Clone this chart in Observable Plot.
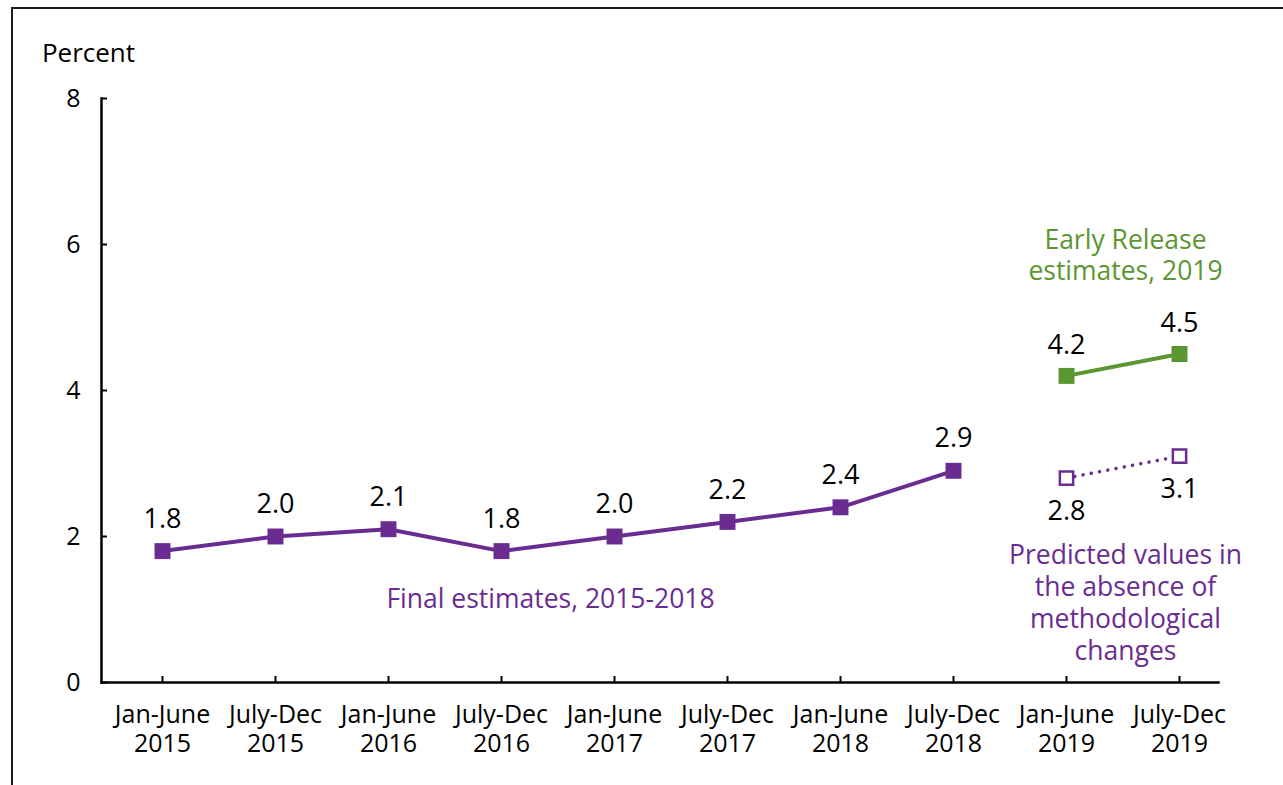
<!DOCTYPE html>
<html>
<head>
<meta charset="utf-8">
<script src="https://cdn.jsdelivr.net/npm/d3@7"></script>
<script src="https://cdn.jsdelivr.net/npm/@observablehq/plot@0.6"></script>
<style>
  body { margin: 0; background: #fff; }
  #wrap { position: relative; width: 1283px; height: 785px; overflow: hidden; background: #fff; }
  #border { position: absolute; left: 11px; top: 7px; width: 2000px; height: 2000px;
            border-left: 2px solid #1a1a1a; border-top: 2px solid #1a1a1a; }
  #chart { position: absolute; left: 0; top: 0; }
</style>
</head>
<body>
<div id="wrap"><div id="border"></div><div id="chart"></div></div>
<script>
// ---- data ----
const periods = ["Jan-June 2015", "July-Dec 2015", "Jan-June 2016", "July-Dec 2016",
                 "Jan-June 2017", "July-Dec 2017", "Jan-June 2018", "July-Dec 2018",
                 "Jan-June 2019", "July-Dec 2019"];
const tickLabels = ["Jan-June\n2015", "July-Dec\n2015", "Jan-June\n2016", "July-Dec\n2016",
                    "Jan-June\n2017", "July-Dec\n2017", "Jan-June\n2018", "July-Dec\n2018",
                    "Jan-June\n2019", "July-Dec\n2019"];
const finalPeriods = periods.slice(0, 8);
const finalValues = [1.8, 2.0, 2.1, 1.8, 2.0, 2.2, 2.4, 2.9];
const earlyPeriods = ["Jan-June 2019", "July-Dec 2019"];
const earlyValues = [4.2, 4.5];
const predictedValues = [2.8, 3.1];
const yTicks = [0, 2, 4, 6, 8];

const purple = "#6a2c91";
const green = "#5b9632";

const finalData = finalValues.map((v, i) => ({period: finalPeriods[i], value: v}));
const earlyData = earlyValues.map((v, i) => ({period: earlyPeriods[i], value: v}));
const predData = predictedValues.map((v, i) => ({period: earlyPeriods[i], value: v}));

const fmt = d => d.value.toFixed(1);

const chart = Plot.plot({
  width: 1283,
  height: 785,
  marginLeft: 101,
  marginRight: 65,
  marginTop: 98,
  marginBottom: 103,
  style: {fontFamily: "'Open Sans', sans-serif", background: "transparent", color: "#000"},
  x: {type: "point", domain: periods, range: [159, 1181], padding: 0},
  y: {domain: [0, 8]},
  marks: [
    // axes
    Plot.axisX({tickSize: 0, tickPadding: 20, fontSize: 25, lineHeight: 1.16, label: null,
                tickFormat: d => tickLabels[periods.indexOf(d)]}),
    Plot.axisX({tickSize: 6, dy: -6, tickFormat: () => "", label: null, strokeWidth: 2}),
    Plot.axisY({ticks: yTicks, tickSize: 0, tickPadding: 21, fontSize: 25, label: null}),
    Plot.axisY({ticks: yTicks, tickSize: 6, dx: 6, tickFormat: () => "", label: null, strokeWidth: 2}),
    Plot.frame({anchor: "left", strokeWidth: 2.5}),
    Plot.frame({anchor: "bottom", strokeWidth: 2.5}),
    Plot.text(["Percent"], {frameAnchor: "top-left", textAnchor: "middle", lineAnchor: "middle",
              dx: -13, dy: -45, fontSize: 26, fill: "#000"}),

    // final estimates
    Plot.line(finalData, {x: "period", y: "value", stroke: purple, strokeWidth: 4}),
    Plot.dot(finalData, {x: "period", y: "value", symbol: "square", r: 9, fill: purple}),
    Plot.text(finalData, {x: "period", y: "value", text: fmt, dy: -32, fontSize: 27, fill: "#000"}),

    // early release
    Plot.line(earlyData, {x: "period", y: "value", stroke: green, strokeWidth: 4}),
    Plot.dot(earlyData, {x: "period", y: "value", symbol: "square", r: 9, fill: green}),
    Plot.text(earlyData, {x: "period", y: "value", text: fmt, dy: -31, fontSize: 27, fill: "#000"}),

    // predicted
    Plot.line(predData, {x: "period", y: "value", stroke: purple, strokeWidth: 3.5,
                         strokeDasharray: "0.1 8.3", strokeLinecap: "round"}),
    Plot.dot(predData, {x: "period", y: "value", symbol: "square", r: 7.5, fill: "#fff",
                        stroke: purple, strokeWidth: 2.5}),
    Plot.text(predData, {x: "period", y: "value", text: fmt, dy: 33, fontSize: 27, fill: "#000"}),

    // annotations
    Plot.text(["Final estimates, 2015-2018"], {x: () => "July-Dec 2016", y: () => 1.14, dx: 49,
              fontSize: 26.5, fill: purple}),
    Plot.text(["Early Release\nestimates, 2019"], {x: () => "Jan-June 2019", y: () => 5.86, dx: 59,
              fontSize: 26.5, lineHeight: 1.17, fill: green}),
    Plot.text(["Predicted values in\nthe absence of\nmethodological\nchanges"],
              {x: () => "Jan-June 2019", y: () => 1.11, dx: 59, fontSize: 26.5, lineHeight: 1.21, fill: purple})
  ]
});
document.getElementById("chart").appendChild(chart);
</script>
</body>
</html>
